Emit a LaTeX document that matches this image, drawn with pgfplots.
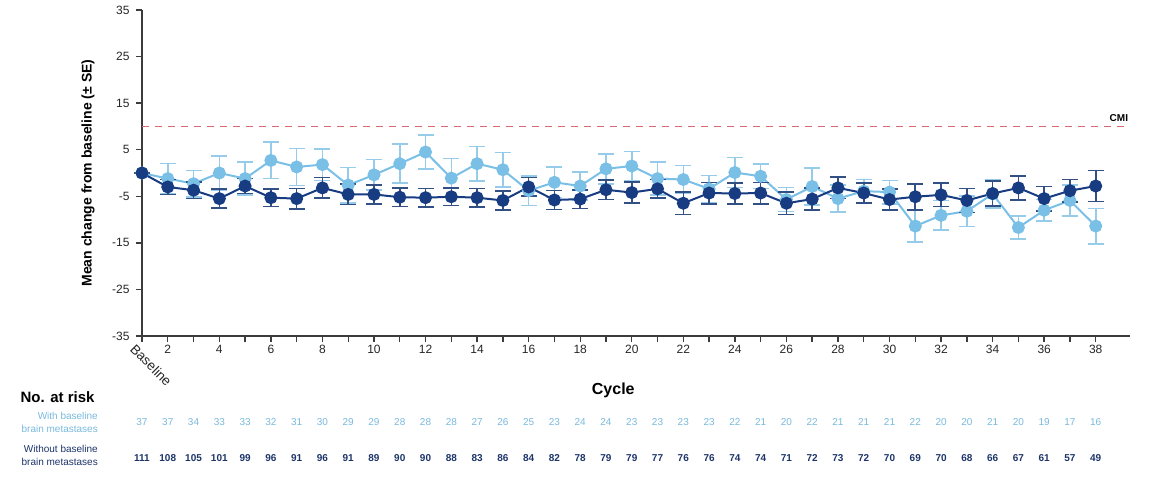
\documentclass[border=0pt]{standalone}
\usepackage{pgfplots}
\usepackage{pgfplotstable}
\pgfplotsset{compat=1.18}
\usepackage{fontspec}
\setmainfont{Liberation Sans}
\definecolor{lightb}{RGB}{122,192,230}
\definecolor{lighterr}{RGB}{150,204,234}
\definecolor{darkb}{RGB}{24,60,130}
\definecolor{darkerr}{RGB}{50,80,132}
\definecolor{cmi}{RGB}{215,105,115}
\definecolor{axgray}{RGB}{60,60,60}
\definecolor{numlight}{RGB}{120,185,222}
\definecolor{numdark}{RGB}{28,52,105}

\pgfplotstableread{
x v e
1 0 0
2 -3.0 1.6
3 -3.7 1.8
4 -5.5 2.0
5 -2.8 1.6
6 -5.3 1.9
7 -5.5 2.2
8 -3.2 2.2
9 -4.6 2.2
10 -4.6 2.0
11 -5.2 2.0
12 -5.3 2.0
13 -5.1 1.9
14 -5.3 2.0
15 -5.9 2.0
16 -3.0 2.0
17 -5.8 2.0
18 -5.6 2.0
19 -3.6 2.1
20 -4.2 2.3
21 -3.4 2.0
22 -6.5 2.4
23 -4.3 2.3
24 -4.4 2.3
25 -4.3 2.3
26 -6.5 2.4
27 -5.6 2.4
28 -3.2 2.3
29 -4.3 2.2
30 -5.7 2.2
31 -5.1 2.8
32 -4.7 2.5
33 -5.9 2.6
34 -4.4 2.7
35 -3.2 2.6
36 -5.5 2.6
37 -3.8 2.4
38 -2.8 3.3
}\darkdata

\pgfplotstableread{
x v e
1 0 0
2 -1.2 3.2
3 -2.3 2.8
4 0.0 3.6
5 -1.2 3.5
6 2.7 3.9
7 1.3 4.0
8 1.8 3.4
9 -2.6 3.8
10 -0.4 3.3
11 2.0 4.2
12 4.5 3.6
13 -1.1 4.2
14 2.0 3.7
15 0.7 3.7
16 -3.8 3.2
17 -2.0 3.3
18 -2.8 3.0
19 0.9 3.2
20 1.5 3.1
21 -1.2 3.5
22 -1.4 3.0
23 -3.4 2.9
24 0.1 3.2
25 -0.7 2.6
26 -5.7 2.6
27 -2.9 4.0
28 -5.5 2.9
29 -3.9 2.5
30 -4.1 2.5
31 -11.4 3.4
32 -9.1 3.2
33 -8.2 3.3
34 -4.5 3.0
35 -11.7 2.5
36 -8.0 2.3
37 -5.9 3.3
38 -11.4 3.8
}\lightdata

\pgfplotstableread{
x with without
1 37 111
2 37 108
3 34 105
4 33 101
5 33 99
6 32 96
7 31 91
8 30 96
9 29 91
10 29 89
11 28 90
12 28 90
13 28 88
14 27 83
15 26 86
16 25 84
17 23 82
18 24 78
19 24 79
20 23 79
21 23 77
22 23 76
23 23 76
24 22 74
25 21 74
26 20 71
27 22 72
28 21 73
29 21 72
30 21 70
31 22 69
32 20 70
33 20 68
34 21 66
35 20 67
36 19 61
37 17 57
38 16 49
}\riskdata

\begin{document}
\begin{tikzpicture}[x=1pt,y=1pt]
\useasboundingbox (0,0) rectangle (1149,477);
\begin{axis}[
  at={(142pt,141pt)}, anchor=south west,
  scale only axis, width=988pt, height=326pt,
  xmin=1, xmax=39.33, ymin=-35, ymax=35,
  axis lines=left,
  axis line style={-, line width=1.6pt, color=axgray},
  tick align=outside,
  major tick length=6pt,
  tick style={line width=1.4pt, color=axgray},
  xtick={1,...,38},
  xticklabels={,2,,4,,6,,8,,10,,12,,14,,16,,18,,20,,22,,24,,26,,28,,30,,32,,34,,36,,38},
  ytick={-35,-25,-15,-5,5,15,25,35},
  /pgf/number format/assume math mode=true,
  ticklabel style={font=\fontsize{12}{14}\selectfont, color=black!85},
  yticklabel style={xshift=-3pt},
  ylabel={Mean change from baseline (± SE)},
  ylabel style={at={(axis description cs:-0.0547,0.5)}, anchor=center, font=\bfseries\fontsize{14}{16}\selectfont},
  xlabel={Cycle},
  xlabel style={at={(axis description cs:0.477,-0.166)}, anchor=center, font=\bfseries\fontsize{16}{18}\selectfont},
  clip=false,
]
\addplot[cmi, line width=1.5pt, dash pattern=on 7pt off 6pt] coordinates {(1,10) (39.3,10)};
\node[anchor=south east, font=\bfseries\fontsize{10}{12}\selectfont, inner sep=1pt] at (axis cs:39.3,10.8) {CMI};

\addplot[color=lightb, line width=2pt, mark=*, mark size=5.5pt,
  mark options={fill=lightb, draw=lightb},
  error bars/.cd, y dir=both, y explicit,
  error bar style={color=lighterr, line width=1.6pt},
  error mark options={rotate=90, mark size=8pt, line width=1.6pt, color=lighterr}]
  table[x=x, y=v, y error=e] {\lightdata};

\addplot[color=darkb, line width=2pt, mark=*, mark size=5.5pt,
  mark options={fill=darkb, draw=darkb},
  error bars/.cd, y dir=both, y explicit,
  error bar style={color=darkerr, line width=1.6pt},
  error mark options={rotate=90, mark size=8pt, line width=1.6pt, color=darkerr}]
  table[x=x, y=v, y error=e] {\darkdata};

\addplot[draw=none, mark=none, nodes near coords, point meta=explicit symbolic,
  every node near coord/.append style={anchor=center, color=numlight, font=\fontsize{10}{12}\selectfont}]
  table[x=x, y expr=-53.4, meta=with] {\riskdata};
\addplot[draw=none, mark=none, nodes near coords, point meta=explicit symbolic,
  every node near coord/.append style={anchor=center, color=numdark, font=\bfseries\fontsize{10}{12}\selectfont}]
  table[x=x, y expr=-61.3, meta=without] {\riskdata};

\node[rotate=-45, anchor=north west, font=\fontsize{13.5}{15}\selectfont, color=black!85, inner sep=0pt] at (axis cs:1,-35) [xshift=1pt, yshift=-9pt] {Baseline};
\end{axis}
\node[anchor=east, font=\bfseries\fontsize{15}{17}\selectfont] at (98,80) {No. at risk};
\node[anchor=east, align=right, font=\fontsize{10}{13}\selectfont, color=numlight, inner sep=0pt] at (98,55) {With baseline\\brain metastases};
\node[anchor=east, align=right, font=\fontsize{10}{13}\selectfont, color=numdark, inner sep=0pt] at (98,22) {Without baseline\\brain metastases};
\end{tikzpicture}
\end{document}
